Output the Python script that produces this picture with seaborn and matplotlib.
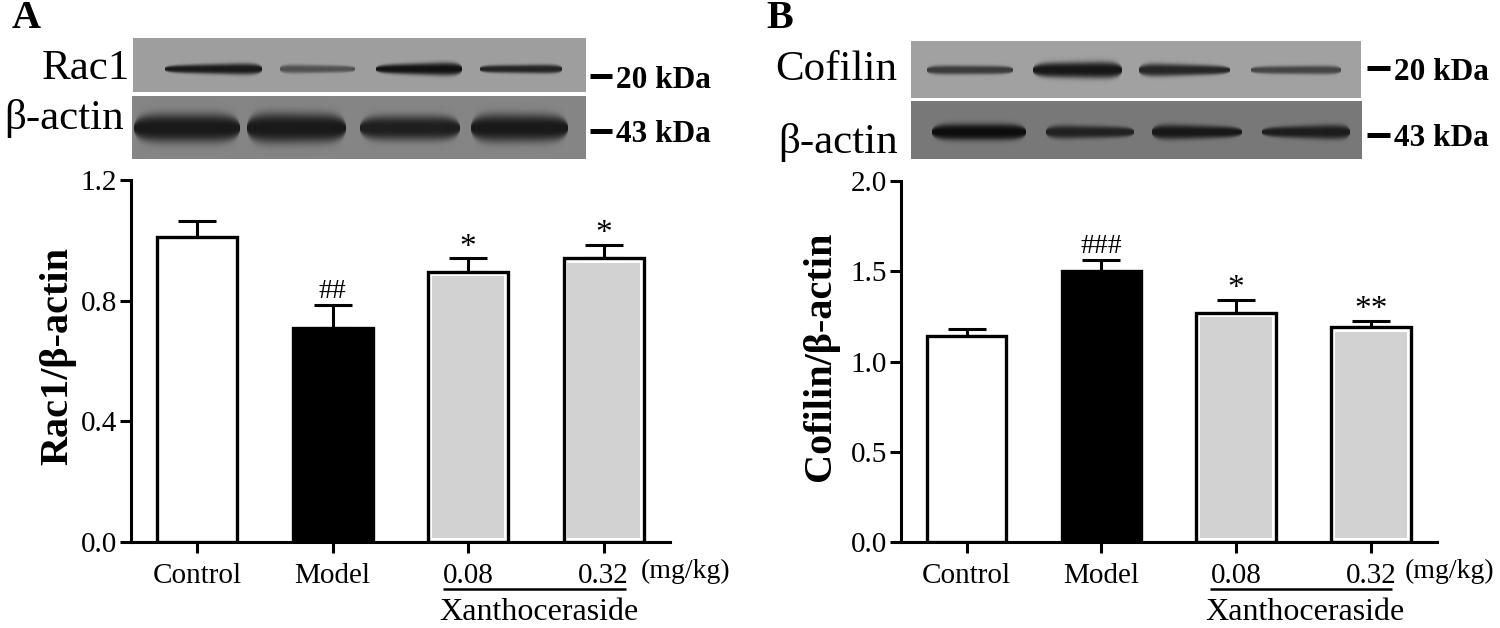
import numpy as np
import pandas as pd
import seaborn as sns
import matplotlib
matplotlib.use("Agg")
import matplotlib.pyplot as plt
from matplotlib.patches import Rectangle

sns.set_theme(style="ticks")
plt.rcParams['font.family'] = ['Liberation Serif', 'DejaVu Serif']

categories = ["Control", "Model", "0.08", "0.32"]
bar_colors = ["white", "black", "#d2d2d2", "#d2d2d2"]

rac1_mean = [1.01, 0.71, 0.895, 0.94]
rac1_upper = [0.055, 0.075, 0.045, 0.045]
rac1_marks = ["", "##", "*", "*"]

cofilin_mean = [1.14, 1.50, 1.27, 1.19]
cofilin_upper = [0.04, 0.06, 0.07, 0.035]
cofilin_marks = ["", "###", "*", "**"]

# Western blots: (x0, x1, half-thickness left, half-thickness right, darkness)
blot_rac1 = [(165, 262, 2.5, 5, .52), (280, 355, 3.5, 2, .30), (376, 462, 3, 6, .55), (480, 562, 2.5, 3.5, .48)]
blot_actin_a = [(134, 240, 13, 13, .42), (247, 346, 14, 13, .42), (360, 460, 11, 11, .40), (471, 568, 13, 12, .42)]
blot_cofilin = [(927, 1013, 3.5, 3, .40), (1033, 1122, 6, 7.5, .54), (1139, 1230, 6, 3, .48), (1251, 1341, 2.5, 3.5, .36)]
blot_actin_b = [(932, 1026, 7, 7, .42), (1046, 1134, 6, 4, .34), (1152, 1242, 7, 4, .38), (1262, 1350, 3.5, 7, .36)]

W, H = 1500, 628
fig = plt.figure(figsize=(15, 6.28), dpi=100, facecolor="white")


def px_axes(left, top, right, bottom, **kw):
    return fig.add_axes([left / W, 1 - bottom / H, (right - left) / W, (bottom - top) / H], **kw)


def draw_panel(left, right, top, bottom, values, upper, marks, ymax, yticks, ylabel, label_x, label_y):
    ax = px_axes(left, top, right, bottom)
    df = pd.DataFrame({"group": categories, "value": values})
    sns.barplot(data=df, x="group", y="value", hue="group", order=categories, hue_order=categories,
                palette=bar_colors, dodge=False, legend=False, width=0.59, saturation=1,
                edgecolor="black", linewidth=2.4, errorbar=None, ax=ax, zorder=3)
    x = np.arange(len(categories))
    ax.errorbar(x, values, yerr=[np.zeros(4), upper], fmt="none", ecolor="black",
                elinewidth=2.2, capsize=13.5, capthick=2.2, zorder=2)
    for p, c in zip(ax.patches, bar_colors):
        if c == "#d2d2d2":
            p.set_facecolor("white")
            bb = p.get_bbox()
            inset_x = 0.028
            inset_y = ymax * 0.012
            ax.add_patch(Rectangle((bb.x0 + inset_x, bb.y0 + inset_y),
                                   bb.width - 2 * inset_x, bb.height - 2 * inset_y,
                                   facecolor=c, edgecolor="none", zorder=4))
    for xi, v, u, m in zip(x, values, upper, marks):
        if m:
            is_hash = "#" in m
            ax.annotate(m, (xi, v + u), xytext=(0, 1 if is_hash else -3), textcoords="offset points",
                        ha="center", va="bottom", fontsize=20 if is_hash else 24, color="black")
    ax.set_xlim(-0.487, 3.49)
    ax.set_ylim(0, ymax)
    ax.set_yticks(yticks)
    ax.set_yticklabels(["%.1f" % t for t in yticks], fontsize=21, color="black")
    ax.set_xticks(x)
    ax.set_xticklabels(categories, fontsize=21, color="black")
    ax.tick_params(axis="y", length=8, width=2.2, color="black", pad=2)
    ax.tick_params(axis="x", length=8, width=2.2, color="black", pad=7)
    ax.set_xlabel("")
    ax.set_ylabel(ylabel, fontsize=29, fontweight="bold", color="black")
    ax.yaxis.set_label_coords(label_x, label_y)
    sns.despine(ax=ax)
    for s in ("left", "bottom"):
        ax.spines[s].set_linewidth(2.2)
        ax.spines[s].set_color("black")
    ax.patch.set_alpha(0)
    return ax


draw_panel(131, 670, 180, 542, rac1_mean, rac1_upper, rac1_marks, 1.2, [0, 0.4, 0.8, 1.2],
           "Rac1/β-actin", -0.101, 0.515)
draw_panel(901, 1437, 181, 542, cofilin_mean, cofilin_upper, cofilin_marks, 2.0, [0, 0.5, 1.0, 1.5, 2.0],
           "Cofilin/β-actin", -0.116, 0.515)


def draw_blot(x0, x1, y0, y1, yc, bg, bands):
    ax = px_axes(x0, y0, x1, y1)
    xs, ys = np.meshgrid(np.arange(x0, x1) + .5, np.arange(y0, y1) + .5)
    img = np.full(xs.shape, float(bg))
    for a, b, hl, hr, d in bands:
        t = np.clip((xs - a) / (b - a), 0, 1)
        lens = np.sqrt(np.clip(1 - (2 * t - 1) ** 6, 0, 1))
        half = (hl + (hr - hl) * t) * lens + 0.01
        inside = (xs > a) & (xs < b)
        img -= d * inside * np.exp(-(np.abs(ys - yc) / (half + 1.2)) ** 3)
    ax.imshow(np.clip(img, 0, 1), cmap="gray", vmin=0, vmax=1, aspect="auto", interpolation="bilinear",
              extent=(x0, x1, y1, y0))
    ax.axis("off")


draw_blot(133, 586, 38, 92, 69, .62, blot_rac1)
draw_blot(132, 586, 96, 159, 128, .52, blot_actin_a)
draw_blot(911, 1361, 41, 98, 70, .63, blot_cofilin)
draw_blot(911, 1362, 101, 159, 132, .47, blot_actin_b)

ov = px_axes(0, 0, W, H)
ov.set_xlim(0, W)
ov.set_ylim(H, 0)
ov.axis("off")
ov.patch.set_alpha(0)


def T(x, y, s, size, weight="normal", ha="center"):
    ov.text(x, y, s, fontsize=size, fontweight=weight, ha=ha, va="center", color="black")


T(26, 19, "A", 29, "bold")
T(780, 18, "B", 29, "bold")
T(86, 69, "Rac1", 31)
T(64, 119, "β-actin", 31)
T(836, 70, "Cofilin", 31)
T(838, 142, "β-actin", 31)

for x0, x1, y, s in [(590, 612, 76, "20 kDa"), (590, 612, 131, "43 kDa"),
                     (1367, 1390, 68, "20 kDa"), (1367, 1390, 135, "43 kDa")]:
    ov.plot([x0, x1], [y, y], color="black", lw=3.6, solid_capstyle="butt")
    T(x1 + 4, y + 4, s, 22.5, "bold", ha="left")

for x_mg, x0, x1, x_x in [(686, 443, 626, 539), (1450, 1210, 1392, 1305)]:
    T(x_mg, 571, "(mg/kg)", 20)
    ov.plot([x0, x1], [589, 589], color="black", lw=1.8, solid_capstyle="butt")
    T(x_x, 613, "Xanthoceraside", 23)

fig.savefig("out.png", dpi=100, facecolor="white")
